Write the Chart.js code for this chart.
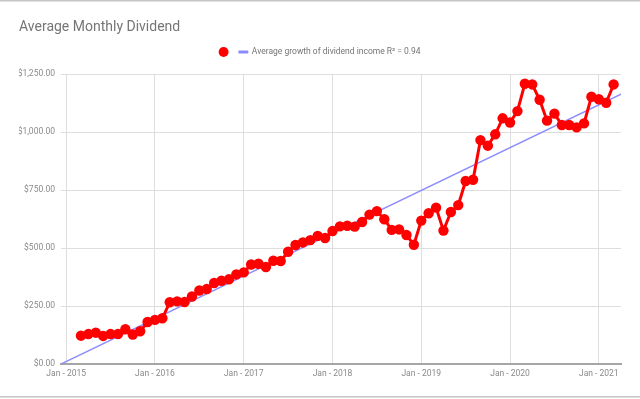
<!DOCTYPE html>
<html>
<head>
<meta charset="utf-8">
<script src="https://cdn.jsdelivr.net/npm/chart.js@4.4.0/dist/chart.umd.min.js"></script>
<style>
  html, body { margin: 0; padding: 0; background: #fff; }
  #wrap { width: 640px; height: 399px; }
</style>
</head>
<body>
<div id="wrap"><canvas id="chart" width="640" height="399"></canvas></div>
<script>
// ============ DATA ============

// average monthly dividend, first point is Mar 2015, last is Mar 2021
const firstMonth = 2; // months after Jan 2015
const dividends = [
  122, 129, 135, 121, 129, 129, 150, 127, 141, 181,           // 2015
  190, 197, 266, 270, 267, 291, 317, 323, 349, 359, 365, 386, // 2016
  395, 429, 432, 418, 445, 444, 484, 513, 524, 534, 552, 543, // 2017
  573, 593, 596, 592, 612, 644, 659, 624, 578, 580, 556, 514, // 2018
  618, 650, 674, 575, 655, 685, 789, 794, 965, 941, 990, 1059, // 2019
  1041, 1090, 1208, 1205, 1139, 1049, 1079, 1030, 1030, 1020, 1037, 1152, // 2020
  1141, 1126, 1205                                            // 2021
];

// trend line end points (month offset, value)
const trendX = [-0.7, 75];
const trendY = [0, 1163];
const trendLabel = 'Average growth of dividend income R² = 0.94';

const xTickValues = [0, 12, 24, 36, 48, 60, 72];
const xTickLabels = ['Jan - 2015', 'Jan - 2016', 'Jan - 2017', 'Jan - 2018', 'Jan - 2019', 'Jan - 2020', 'Jan - 2021'];
const yTickValues = [0, 250, 500, 750, 1000, 1250];
const yTickLabels = ['$0.00', '$250.00', '$500.00', '$750.00', '$1,000.00', '$1,250.00'];

// ============ CHART ============

const smallFont = { family: 'Roboto, sans-serif', size: 8.5 };
const gridColor = '#dedede';

// spreadsheet cell borders above and below the chart
const sheetLines = {
  id: 'sheetLines',
  afterDraw(chart) {
    const ctx = chart.ctx;
    ctx.save();
    ctx.strokeStyle = '#c6c6c6';
    ctx.lineWidth = 1.5;
    ctx.beginPath();
    ctx.moveTo(0, 0.75); ctx.lineTo(640, 0.75);
    ctx.moveTo(0, 396.75); ctx.lineTo(640, 396.75);
    ctx.stroke();
    ctx.restore();
  }
};

const ctx = document.getElementById('chart').getContext('2d');

new Chart(ctx, {
  type: 'scatter',
  data: {
    datasets: [
      {
        label: '',
        data: dividends.map((v, i) => ({ x: firstMonth + i, y: v })),
        showLine: true,
        borderColor: '#ff0000',
        borderWidth: 3,
        backgroundColor: '#ff0000',
        pointBackgroundColor: '#ff0000',
        pointBorderColor: '#ff0000',
        pointBorderWidth: 0,
        pointRadius: 5.2,
        pointStyle: 'circle',
        tension: 0,
        xAxisID: 'x',
        order: 0
      },
      {
        label: trendLabel,
        data: trendX.map((x, i) => ({ x: x, y: trendY[i] })),
        showLine: true,
        borderColor: '#8c8cff',
        borderWidth: 1.5,
        pointRadius: 0,
        pointStyle: 'line',
        pointBorderColor: '#8c8cff',
        pointBorderWidth: 3,
        xAxisID: 'x',
        order: 1
      }
    ]
  },
  options: {
    responsive: false,
    animation: false,
    layout: { padding: { left: 19, right: 19, top: 0, bottom: 0 } },
    scales: {
      x: {
        type: 'linear',
        position: 'bottom',
        min: trendX[0],
        max: trendX[1],
        afterBuildTicks: s => { s.ticks = xTickValues.map(v => ({ value: v })); },
        afterFit: s => { s.height = 35; },
        ticks: {
          font: smallFont,
          color: '#8a8a8a',
          padding: 5,
          maxRotation: 0,
          callback: v => xTickLabels[xTickValues.indexOf(v)]
        },
        grid: { color: gridColor, lineWidth: 1, drawTicks: false },
        border: { display: true, color: '#a6a6a6', width: 2 }
      },
      x2: {
        type: 'linear',
        position: 'top',
        display: true,
        afterFit: s => { s.height = 7.7; },
        ticks: { display: false },
        grid: { display: false, drawTicks: false },
        border: { display: false }
      },
      y: {
        min: 0,
        max: 1250,
        afterBuildTicks: s => { s.ticks = yTickValues.map(v => ({ value: v })); },
        afterFit: s => { s.width = 42; },
        ticks: {
          font: smallFont,
          color: '#8a8a8a',
          padding: 6,
          callback: v => yTickLabels[yTickValues.indexOf(v)]
        },
        grid: { color: gridColor, lineWidth: 1, drawTicks: false },
        border: { display: false }
      }
    },
    plugins: {
      title: {
        display: true,
        text: 'Average Monthly Dividend',
        align: 'start',
        color: '#757575',
        font: { family: 'Roboto, sans-serif', size: 14, weight: 'normal' },
        padding: { top: 19, bottom: 5 }
      },
      legend: {
        display: true,
        position: 'top',
        align: 'center',
        labels: {
          usePointStyle: true,
          boxHeight: 7,
          padding: 7,
          color: '#757575',
          font: smallFont
        }
      },
      tooltip: { enabled: false }
    }
  },
  plugins: [sheetLines]
});
</script>
</body>
</html>
